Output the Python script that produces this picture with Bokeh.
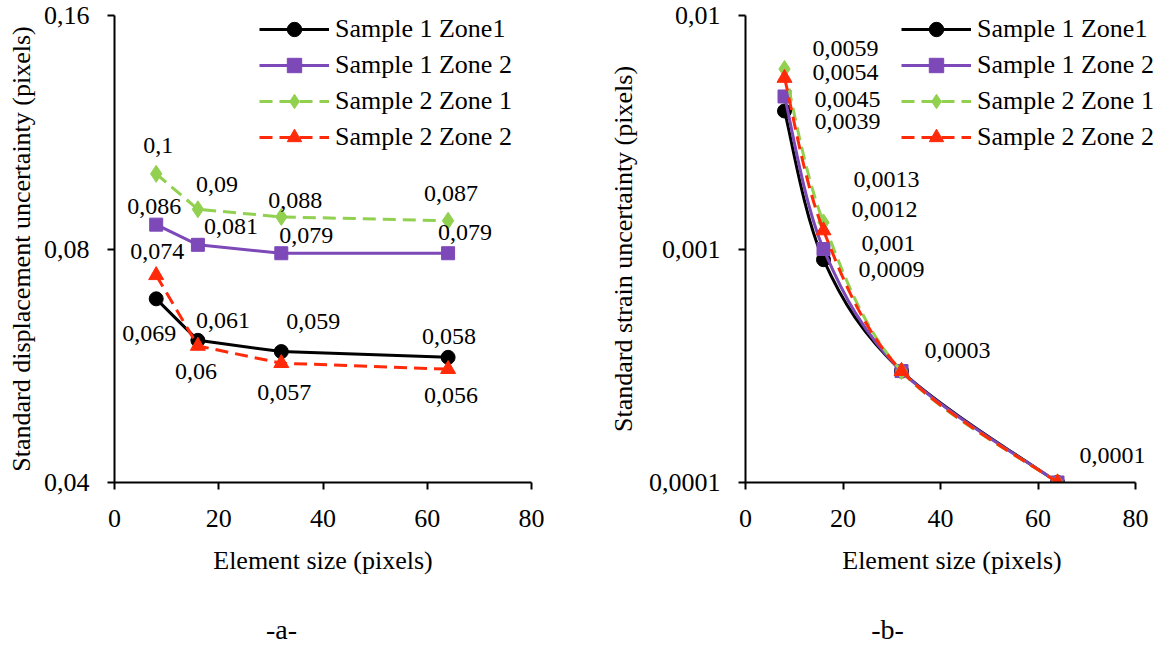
import numpy as np
from bokeh.plotting import figure
from bokeh.layouts import row, column
from bokeh.models import (Range1d, FixedTicker, CustomJSTickFormatter, Legend,
                          LegendItem, Label, ColumnDataSource)
from bokeh.core.properties import value
from bokeh.embed import file_html
from bokeh.resources import INLINE

# ---------------- data ----------------
element_size = [8, 16, 32, 64]
x_ticks = [0, 20, 40, 60, 80]
series_names = ["Sample 1 Zone1", "Sample 1 Zone 2", "Sample 2 Zone 1", "Sample 2 Zone 2"]

disp_s1z1 = [0.069, 0.061, 0.059, 0.058]
disp_s1z2 = [0.086, 0.081, 0.079, 0.079]
disp_s2z1 = [0.1, 0.09, 0.088, 0.087]
disp_s2z2 = [0.074, 0.06, 0.057, 0.056]
disp_ticks = [0.04, 0.08, 0.16]

strain_s1z1 = [0.0039, 0.0009, 0.0003, 0.0001]
strain_s1z2 = [0.0045, 0.001, 0.0003, 0.0001]
strain_s2z1 = [0.0059, 0.0013, 0.0003, 0.0001]
strain_s2z2 = [0.0054, 0.0012, 0.0003, 0.0001]
strain_ticks = [0.0001, 0.001, 0.01]

captions = ["-a-", "-b-"]

# ---------------- styles ----------------
FONT = "Liberation Serif"
styles = [
    dict(color="#000000", dash="solid", marker="circle", size=14),
    dict(color="#7D48B7", dash="solid", marker="square", size=13),
    dict(color="#92D050", dash="13 7", marker="diamond", size=17),
    dict(color="#FF2A0A", dash="13 7", marker="triangle", size=15),
]

# data-label screen offsets (dx, dy), None = label hidden (overlapping)
disp_offsets = [
    [(-7, 35), (25, -20), (32, -30), (1, -21)],
    [(-2, -18), (33, -18), (25, -18), (17, -21)],
    [(2, -28), (19, -25), (14, -16), (3, -27)],
    [(1, -24), (-2, 26), (3, 29), (3, 26)],
]
strain_offsets = [
    [(63, 11), (68, 10), None, None],
    [(63, 3), (65, -6), None, None],
    [(61, -21), (63, -43), None, None],
    [(61, -5), (61, -21), (56, -21), (55, -27)],
]

fmt_code = "return tick.toString().replace('.', ',')"
X_MAX = x_ticks[-1]


def style_axes(p, ylabel, y_ticks, ylab_standoff):
    p.xaxis.ticker = FixedTicker(ticks=x_ticks, minor_ticks=[])
    p.yaxis.ticker = FixedTicker(ticks=y_ticks, minor_ticks=[])
    p.xaxis.formatter = CustomJSTickFormatter(code=fmt_code)
    p.yaxis.formatter = CustomJSTickFormatter(code=fmt_code)
    p.xaxis.bounds = (x_ticks[0], x_ticks[-1])
    p.xaxis.axis_label = "Element size (pixels)"
    p.yaxis.axis_label = ylabel
    for ax in (p.xaxis[0], p.yaxis[0]):
        ax.axis_line_width = 2
        ax.axis_line_color = "black"
        ax.major_tick_line_width = 2
        ax.major_tick_line_color = "black"
        ax.major_tick_out = 7
        ax.major_tick_in = 0
        ax.minor_tick_out = 0
        ax.minor_tick_in = 0
        ax.major_label_text_font = FONT
        ax.major_label_text_font_size = "26px"
        ax.major_label_text_color = "black"
        ax.axis_label_text_font = FONT
        ax.axis_label_text_font_size = "26px"
        ax.axis_label_text_font_style = "normal"
        ax.axis_label_text_color = "black"
    p.xaxis.major_label_standoff = 20
    p.xaxis.axis_label_standoff = 16
    p.yaxis.major_label_standoff = 18
    p.yaxis.axis_label_standoff = ylab_standoff
    p.grid.visible = False


H = 598      # height of the two chart canvases
H_CAP = 48   # height of the caption strip below them


def make_fig(width, mb_left, mb_right, mb_top, mb_bottom, x_end, yr):
    p = figure(width=width, height=H, y_axis_type="log",
               x_range=Range1d(0, x_end), y_range=Range1d(*yr),
               output_backend="svg", toolbar_location=None,
               min_border_left=mb_left, min_border_right=mb_right,
               min_border_top=mb_top, min_border_bottom=mb_bottom,
               outline_line_color=None)
    return p


def add_labels(p, all_series, offsets):
    xs, ys, txt, dx, dy = [], [], [], [], []
    for vals, offs in zip(all_series, offsets):
        for xv, yv, off in zip(element_size, vals, offs):
            if off is None:
                continue
            xs.append(xv)
            ys.append(yv)
            txt.append(str(yv).replace(".", ","))
            dx.append(off[0])
            dy.append(off[1])
    src = ColumnDataSource(dict(x=xs, y=ys, text=txt, dx=dx, dy=dy))
    p.text(x="x", y="y", text="text", x_offset="dx", y_offset="dy", source=src,
           text_font=value(FONT), text_font_size="24px", text_color="black",
           text_align="center", text_baseline="middle")


def add_legend(p, items, loc):
    lg = Legend(items=items, location=loc, glyph_width=70, glyph_height=36,
                label_height=36, spacing=0, padding=0, margin=0, label_standoff=6,
                border_line_color=None, background_fill_alpha=0,
                label_text_font=FONT, label_text_font_size="26px",
                label_text_color="black")
    p.add_layout(lg)


# ---------------- panel a ----------------
# frame: left 114, top 15, width 417, height 470
p1_width = 605
p1 = make_fig(p1_width, 114, 74, 15, H - 485, X_MAX, (disp_ticks[0], disp_ticks[-1]))
disp_all = [disp_s1z1, disp_s1z2, disp_s2z1, disp_s2z2]
items1 = []
for name, vals, st in zip(series_names, disp_all, styles):
    lr = p1.line(element_size, vals, line_color=st["color"], line_width=3,
                 line_dash=st["dash"])
    sr = p1.scatter(element_size, vals, marker=st["marker"], size=st["size"],
                    fill_color=st["color"], line_color=st["color"])
    items1.append(LegendItem(label=name, renderers=[lr, sr]))
add_labels(p1, disp_all, disp_offsets)
style_axes(p1, "Standard displacement uncertainty (pixels)", disp_ticks, 5)
add_legend(p1, items1, (145, 327))

# ---------------- panel b ----------------
# frame: left 745, top 15, axis width 390 for 0..80, frame extended to the right
p2_width = 555
p2_left = 140
p2_right = 2
frame_w2 = p2_width - p2_left - p2_right
x_end2 = X_MAX * frame_w2 / 390.0
p2 = make_fig(p2_width, p2_left, p2_right, 15, H - 482, x_end2,
              (strain_ticks[0], strain_ticks[-1]))
strain_all = [strain_s1z1, strain_s1z2, strain_s2z1, strain_s2z2]


def bezier_pts(xs, ys):
    P = np.column_stack([np.asarray(xs, float), np.log10(np.asarray(ys, float))])
    n = len(P)
    out = dict(x0=[], y0=[], x1=[], y1=[], cx0=[], cy0=[], cx1=[], cy1=[])
    for i in range(n - 1):
        p0 = P[i - 1] if i > 0 else P[i]
        pa, pb = P[i], P[i + 1]
        p3 = P[i + 2] if i + 2 < n else P[i + 1]
        c1 = pa + (pb - p0) / 6.0
        c2 = pb - (p3 - pa) / 6.0
        out["x0"].append(pa[0]); out["y0"].append(10 ** pa[1])
        out["x1"].append(pb[0]); out["y1"].append(10 ** pb[1])
        out["cx0"].append(c1[0]); out["cy0"].append(10 ** c1[1])
        out["cx1"].append(c2[0]); out["cy1"].append(10 ** c2[1])
    return out


items2 = []
for name, vals, st in zip(series_names, strain_all, styles):
    src = ColumnDataSource(bezier_pts(element_size, vals))
    br = p2.bezier(x0="x0", y0="y0", x1="x1", y1="y1", cx0="cx0", cy0="cy0",
                   cx1="cx1", cy1="cy1", source=src, line_color=st["color"],
                   line_width=3, line_dash=st["dash"])
    sr = p2.scatter(element_size, vals, marker=st["marker"], size=st["size"],
                    fill_color=st["color"], line_color=st["color"])
    items2.append(LegendItem(label=name, renderers=[br, sr]))
add_labels(p2, strain_all, strain_offsets)
style_axes(p2, "Standard strain uncertainty (pixels)", strain_ticks, 8)
add_legend(p2, items2, (156, 327))

# ---------------- caption strip ----------------
cap_w = p1_width + p2_width
cap = figure(width=cap_w, height=H_CAP, x_range=Range1d(0, cap_w),
             y_range=Range1d(0, H_CAP), output_backend="svg",
             toolbar_location=None, x_axis_location=None, y_axis_location=None,
             min_border=0, outline_line_color=None)
cap.grid.visible = False
for txt, cx in zip(captions, (281, 887)):
    cap.add_layout(Label(x=cx, y=17, text=txt, text_font=FONT,
                         text_font_size="28px", text_align="center",
                         text_baseline="middle", text_color="black"))

layout = column(row(p1, p2), cap)
open("out.html", "w").write(file_html(layout, INLINE))
